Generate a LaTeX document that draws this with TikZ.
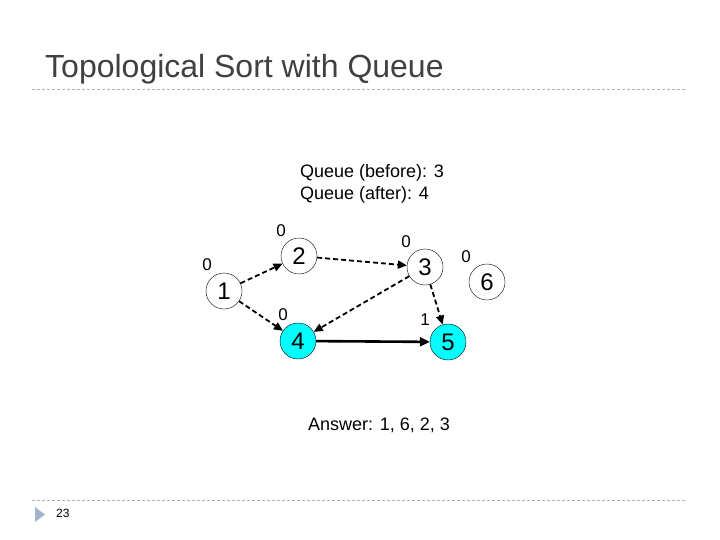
\documentclass[tikz,border=0pt]{standalone}
\usepackage{fontspec}
\setmainfont{Liberation Sans}
\usepackage{tikz}
\usetikzlibrary{positioning, arrows.meta}
\definecolor{titlegray}{RGB}{64,64,64}
\definecolor{rulegray}{RGB}{178,178,178}
\definecolor{bulletblue}{RGB}{160,180,205}
\definecolor{inqueue}{RGB}{0,255,255}

\begin{document}
\begin{tikzpicture}[x=1pt, y=-1pt, every node/.style={inner sep=0pt},
  vertex/.style={circle, draw, thin, minimum size=36pt, font=\fontsize{24}{26}\selectfont},
  queued/.style={vertex, fill=inqueue},
  deg/.style={font=\fontsize{17}{19}\selectfont},
  ann/.style={font=\fontsize{18}{22}\selectfont, anchor=base west},
  edge/.style={-{Triangle[length=9pt, width=8pt]}, line width=1.8pt, dash pattern=on 5pt off 3pt},
  taken/.style={-{Triangle[length=10pt, width=9pt]}, line width=2.6pt},
  rule/.style={rulegray, line width=0.8pt, dash pattern=on 3pt off 2pt}]
\useasboundingbox (0,0) rectangle (720,540);

% header and footer
\node[anchor=base west, font=\fontsize{32}{36}\selectfont, color=titlegray] (title) at (45,78)
  {Topological Sort with Queue};
\coordinate (tl) at (32,89); \coordinate (tr) at (686,89);
\draw[rule] (tl) -- (tr);
\coordinate (bl) at (32,500); \coordinate (br) at (686,500);
\draw[rule] (bl) -- (br);
\fill[bulletblue] (35,507) -- (45,514.5) -- (35,522) -- cycle;
\node[anchor=base west, font=\fontsize{12}{14}\selectfont] (page) at (56,517) {23};

% queue state
\node[ann] (qbefore) at (300,178) {Queue (before): 3};
\node[ann] (qafter) at (300,200) {Queue (after): 4};

% graph
\node[vertex] (n1) at (224,291) {1};
\node[vertex] (n2) at (299,256) {2};
\node[vertex] (n3) at (425,267) {3};
\node[queued] (n4) at (298,341) {4};
\node[queued] (n5) at (448,342) {5};
\node[vertex] (n6) at (487,282) {6};

% in-degrees
\node[deg] (d1) at (207,265) {0};
\node[deg] (d2) at (281,231) {0};
\node[deg] (d3) at (406,242) {0};
\node[deg] (d4) at (283,315) {0};
\node[deg] (d5) at (425,320) {1};
\node[deg] (d6) at (466,257) {0};

\draw[edge] (n1) -- (n2);
\draw[edge] (n1) -- (n4);
\draw[edge] (n2) -- (n3);
\draw[edge] (n3) -- (n4);
\draw[edge] (n3) -- (n5);
\draw[taken] (n4) -- (n5);

\node[ann] (answer) at (308,430) {Answer: 1, 6, 2, 3};
\end{tikzpicture}
\end{document}
